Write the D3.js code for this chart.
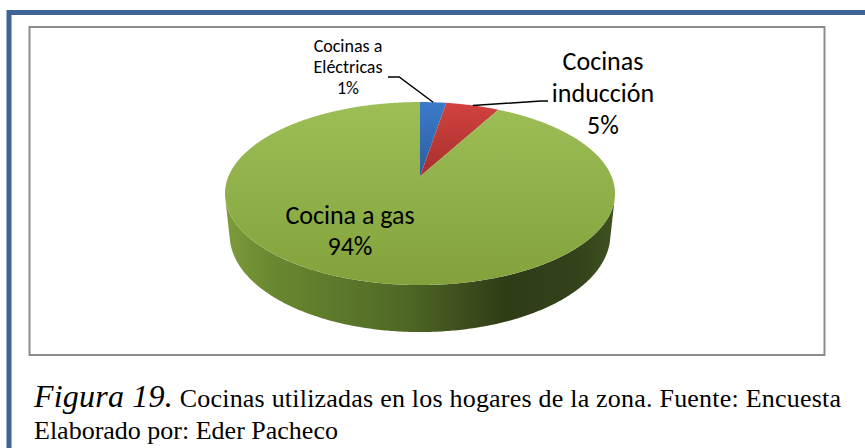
<!DOCTYPE html>
<html>
<head>
<meta charset="utf-8">
<script src="https://cdn.jsdelivr.net/npm/d3@7"></script>
<style>
    body { margin: 0; background: #fff; }
    svg { display: block; }
</style>
</head>
<body>
<svg id="chart" width="865" height="448"></svg>
<script>
// data
const categories = ["Cocinas a Eléctricas", "Cocinas inducción", "Cocina a gas"];
const labelLines = [["Cocinas a", "Eléctricas"], ["Cocinas", "inducción"], ["Cocina a gas"]];
const shares = [2.6, 5.3, 92.1];          // slice sizes as drawn
const percentLabels = ["1%", "5%", "94%"]; // percentages printed on the chart
const captionItalic = "Figura 19.";
const captionRest = " Cocinas utilizadas en los hogares de la zona. Fuente: Encuesta";
const captionLine2 = "Elaborado por: Eder Pacheco";

const serif = '"Liberation Serif", "Times New Roman", serif';
const sans = 'Carlito, Lato, sans-serif';

const svg = d3.select("#chart");
const defs = svg.append("defs");

// page frame + chart area frame
svg.append("rect")
    .attr("x", 9).attr("y", 12.5)
    .attr("width", 900).attr("height", 500)
    .attr("fill", "none")
    .attr("stroke", "#3d6494")
    .attr("stroke-width", 5);

svg.append("rect")
    .attr("x", 29.5).attr("y", 27)
    .attr("width", 795).attr("height", 328)
    .attr("fill", "#fff")
    .attr("stroke", "#8c8c8c")
    .attr("stroke-width", 2);

// 3d perspective projection of the pie disc
const view = {
    cx: 420, cy: 176.5,
    halfWidth: 191.6,
    k: 0.186,
    tilt: Math.asin(0.461),
    depth: 0.247
};
const sa = Math.sin(view.tilt), ca = Math.cos(view.tilt);
const dist = ca / view.k;
const focal = view.halfWidth * dist;

function project(theta, y) {
    const x = Math.sin(theta), z = Math.cos(theta);
    const d = dist + z * ca - y * sa;
    return [view.cx + focal * x / d, view.cy - focal * (z * sa + y * ca) / d];
}

function arcPoints(a0, a1, y) {
    const n = Math.max(2, Math.ceil(Math.abs(a1 - a0) / 0.01));
    return d3.range(n + 1).map(i => project(a0 + (a1 - a0) * i / n, y));
}

const line = d3.line();

const pie = d3.pie().sort(null).value(d => d.value);
const arcs = pie(categories.map((c, i) => ({ name: c, value: shares[i] })));

const topColors = [["#3c7bcb", "#2d5c9d"], ["#d3423f", "#a5302d"], ["#9dbf56", "#82a13b"]];

topColors.forEach((c, i) => {
    const g = defs.append("linearGradient")
        .attr("id", "top" + i)
        .attr("gradientUnits", "userSpaceOnUse")
        .attr("x1", 0).attr("y1", 100).attr("x2", 0).attr("y2", i == 2 ? 290 : 180);
    g.append("stop").attr("offset", 0).attr("stop-color", c[0]);
    g.append("stop").attr("offset", 1).attr("stop-color", c[1]);
});

const sideGrad = defs.append("linearGradient")
    .attr("id", "side")
    .attr("gradientUnits", "userSpaceOnUse")
    .attr("x1", 225).attr("y1", 0).attr("x2", 615).attr("y2", 0);
[[0, "#7c9c3c"], [0.12, "#6a8830"], [0.45, "#506a26"], [0.72, "#2f3d16"], [0.9, "#33421a"], [1, "#405221"]]
    .forEach(s => sideGrad.append("stop").attr("offset", s[0]).attr("stop-color", s[1]));

// visible side of the cylinder
const silhouette = Math.acos(-1 / (dist * ca));
const sideLo = silhouette, sideHi = 2 * Math.PI - silhouette;

const pieG = svg.append("g");

arcs.forEach(a => {
    const a0 = Math.max(a.startAngle, sideLo), a1 = Math.min(a.endAngle, sideHi);
    if (a1 <= a0) return;
    const pts = arcPoints(a0, a1, 0).concat(arcPoints(a1, a0, -view.depth));
    pieG.append("path")
        .attr("d", line(pts) + "Z")
        .attr("fill", "url(#side)");
});

arcs.forEach((a, i) => {
    const pts = [[view.cx, view.cy]].concat(arcPoints(a.startAngle, a.endAngle, 0));
    pieG.append("path")
        .attr("d", line(pts) + "Z")
        .attr("fill", `url(#top${i})`);
});

// leader lines
const mid = a => (a.startAngle + a.endAngle) / 2;
const p0 = project(mid(arcs[0]), 0);
const p1 = project(mid(arcs[1]), 0);

svg.append("path")
    .attr("d", line([p0, [p0[0] - 34, 77], [388, 77]]))
    .attr("fill", "none").attr("stroke", "#000").attr("stroke-width", 1.5);

svg.append("path")
    .attr("d", line([p1, [541, 101], [548, 101]]))
    .attr("fill", "none").attr("stroke", "#000").attr("stroke-width", 1.5);

// data labels
const labelSpecs = [
    { x: 348, y: 52, step: 21, size: 18 },
    { x: 603, y: 70, step: 32, size: 26 },
    { x: 350, y: 224, step: 31, size: 26 }
];

labelSpecs.forEach((s, i) => {
    const t = svg.append("text")
        .style("font-family", sans)
        .attr("text-anchor", "middle")
        .attr("font-size", s.size)
        .attr("fill", "#000");
    labelLines[i].concat([percentLabels[i]]).forEach((txt, j) => {
        t.append("tspan").attr("x", s.x).attr("y", s.y + j * s.step).text(txt);
    });
});

// caption (first line justified)
const cap = svg.append("text")
    .style("font-family", serif)
    .attr("x", 34).attr("y", 407)
    .attr("fill", "#000")
    .attr("textLength", 807)
    .attr("lengthAdjust", "spacing");
cap.append("tspan").attr("font-style", "italic").attr("font-size", 32).text(captionItalic);
cap.append("tspan").attr("font-size", 26).text(captionRest);

svg.append("text")
    .style("font-family", serif)
    .attr("x", 34).attr("y", 439)
    .attr("font-size", 26)
    .attr("fill", "#000")
    .text(captionLine2);
</script>
</body>
</html>
